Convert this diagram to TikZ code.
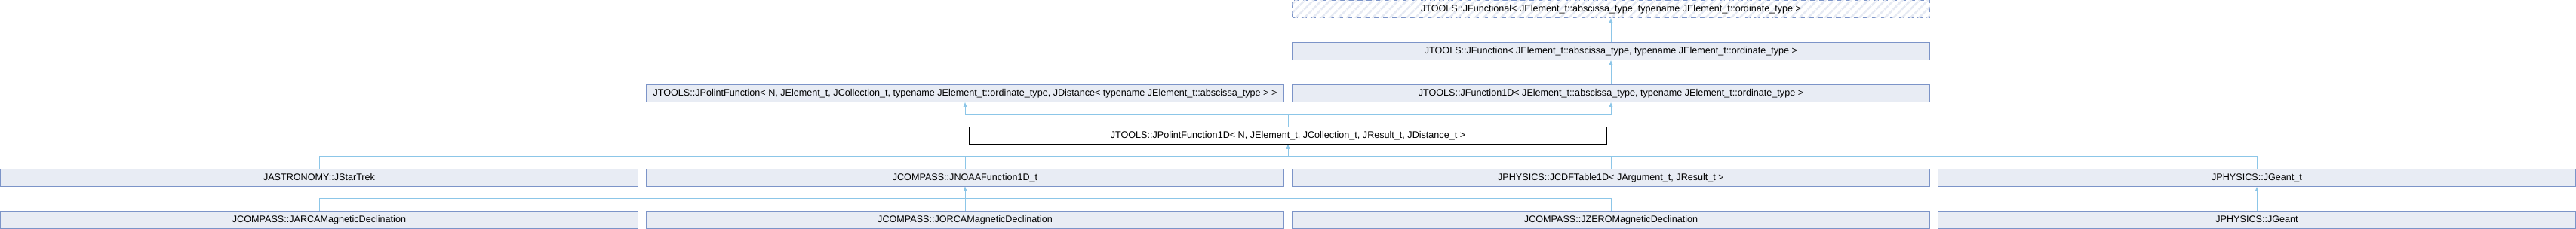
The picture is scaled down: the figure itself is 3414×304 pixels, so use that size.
\documentclass[tikz,border=0pt]{standalone}
\usepackage{fontspec}
\setmainfont{Liberation Sans}
\usepackage{tikz}
\usetikzlibrary{arrows.meta,positioning,patterns.meta}
\definecolor{clsline}{RGB}{124,148,200}
\definecolor{clsfill}{RGB}{232,236,244}
\definecolor{inhline}{RGB}{140,198,232}
\definecolor{hatchcol}{RGB}{230,234,243}
\tikzset{
  cls/.style={rectangle, draw=clsline, fill=clsfill, line width=1pt, minimum width=845pt, minimum height=23pt, inner sep=0pt, text height=9.3pt, text depth=2.6pt, font=\fontsize{12.6}{13}\selectfont},
  curcls/.style={cls, draw=black, fill=white},
  extcls/.style={cls, dash pattern=on 7pt off 5pt, fill=white, postaction={pattern={Lines[angle=45,distance=8pt,line width=2.5pt]}, pattern color=hatchcol}},
  inh/.style={{Triangle[length=6pt,width=4.5pt]}-, draw=inhline, line width=1pt}
}
\begin{document}
\begin{tikzpicture}[x=1pt,y=-1pt]
\useasboundingbox (0,0) rectangle (3414,304);
% bases
\node[extcls] (functional) at (2135,12) {JTOOLS::JFunctional< JElement\_t::abscissa\_type, typename JElement\_t::ordinate\_type >};
\node[cls] (function) at (2135,68) {JTOOLS::JFunction< JElement\_t::abscissa\_type, typename JElement\_t::ordinate\_type >};
\node[cls] (polint) at (1279,124) {JTOOLS::JPolintFunction< N, JElement\_t, JCollection\_t, typename JElement\_t::ordinate\_type, JDistance< typename JElement\_t::abscissa\_type > >};
\node[cls] (function1d) at (2135,124) {JTOOLS::JFunction1D< JElement\_t::abscissa\_type, typename JElement\_t::ordinate\_type >};
% this class
\node[curcls] (polint1d) at (1707,180) {JTOOLS::JPolintFunction1D< N, JElement\_t, JCollection\_t, JResult\_t, JDistance\_t >};
% derived
\node[cls] (startrek) at (423,236) {JASTRONOMY::JStarTrek};
\node[cls] (noaa) at (1279,236) {JCOMPASS::JNOAAFunction1D\_t};
\node[cls] (cdf) at (2135,236) {JPHYSICS::JCDFTable1D< JArgument\_t, JResult\_t >};
\node[cls] (geantt) at (2991,236) {JPHYSICS::JGeant\_t};
\node[cls] (arca) at (423,292) {JCOMPASS::JARCAMagneticDeclination};
\node[cls] (orca) at (1279,292) {JCOMPASS::JORCAMagneticDeclination};
\node[cls] (zero) at (2135,292) {JCOMPASS::JZEROMagneticDeclination};
\node[cls] (geant) at (2991,292) {JPHYSICS::JGeant};

\draw[inh] (functional) -- (function);
\draw[inh] (function) -- (function1d);
\draw[inh] (polint) |- ++(0,28) -| (polint1d);
\draw[inh] (function1d) |- ++(0,28) -| (polint1d);
\draw[inh] (polint1d) |- ++(0,28) -| (startrek);
\draw[inh] (polint1d) |- ++(0,28) -| (noaa);
\draw[inh] (polint1d) |- ++(0,28) -| (cdf);
\draw[inh] (polint1d) |- ++(0,28) -| (geantt);
\draw[inh] (noaa) |- ++(0,28) -| (arca);
\draw[inh] (noaa) -- (orca);
\draw[inh] (noaa) |- ++(0,28) -| (zero);
\draw[inh] (geantt) -- (geant);
\end{tikzpicture}
\end{document}
